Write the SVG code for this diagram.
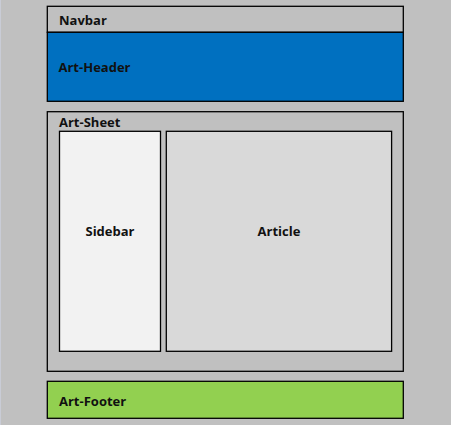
<svg xmlns="http://www.w3.org/2000/svg" width="451" height="425" viewBox="0 0 451 425">
<style>
.box{stroke:#000;stroke-width:1.3}
.t{font-family:"Open Sans","Noto Sans","Liberation Sans",sans-serif;font-weight:bold;font-size:13px;fill:#111}
.c{text-anchor:middle}
</style>
<rect x="0" y="0" width="451" height="425" fill="#C0C0C0"/>
<line x1="0.5" y1="0" x2="0.5" y2="425" stroke="#C9CCD6" stroke-width="1"/>
<g id="navbar">
<rect class="box" x="47.3" y="6.3" width="356" height="26" fill="#C0C0C0"/>
<text class="t" x="59" y="24.5">Navbar</text>
</g>
<g id="art-header">
<rect class="box" x="47.3" y="32.3" width="356" height="69" fill="#0070C0"/>
<text class="t" x="58.5" y="71.5">Art-Header</text>
</g>
<g id="art-sheet">
<rect class="box" x="47.3" y="111.7" width="356" height="259.6" fill="#C0C0C0"/>
<text class="t" x="59" y="126.5">Art-Sheet</text>
</g>
<g id="sidebar">
<rect class="box" x="59.5" y="131.3" width="101" height="220" fill="#F2F2F2"/>
<text class="t c" x="110" y="235.5">Sidebar</text>
</g>
<g id="article">
<rect class="box" x="166.3" y="131.3" width="225.3" height="220" fill="#D9D9D9"/>
<text class="t c" x="279" y="235.5">Article</text>
</g>
<g id="art-footer">
<rect class="box" x="47.3" y="381.3" width="356" height="37" fill="#92D050"/>
<text class="t" x="59" y="405.5">Art-Footer</text>
</g>
<g id="connectors"/>
</svg>
